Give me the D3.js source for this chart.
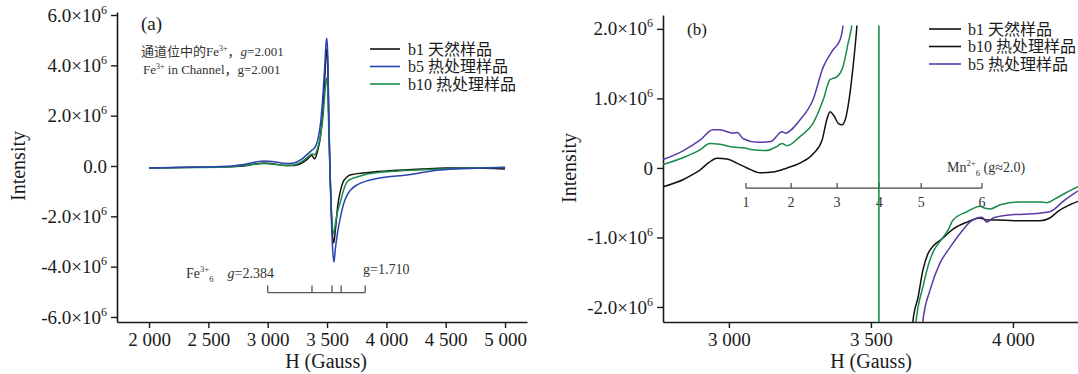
<!DOCTYPE html>
<html><head><meta charset="utf-8">
<script src="https://cdn.jsdelivr.net/npm/d3@7"></script>
<style>
body{margin:0;background:#fff;}
svg{display:block;font-family:"Liberation Serif","Times New Roman","Noto Sans CJK SC",serif;}
</style></head><body>
<svg id="c" width="1078" height="374"></svg>
<script>
// ---------------- DATA (values in units of 10^6) ----------------
// Panel (a)
const aXTicks = [2000, 2500, 3000, 3500, 4000, 4500, 5000];
const aYTicks = [-6, -4, -2, 0, 2, 4, 6];
const aB1 = [[2000,-0.08],[2300,-0.06],[2600,-0.04],[2800,0.0],[2900,0.08],[2970,0.12],[3050,0.08],[3150,0.02],[3220,0.02],[3280,0.1],[3330,0.25],[3370,0.42],[3395,0.28],[3420,0.6],[3445,1.2],[3465,2.2],[3480,3.4],[3493,4.5],[3499,4.65],[3506,4.0],[3515,1.8],[3525,-0.2],[3538,-2.0],[3550,-2.95],[3557,-3.05],[3570,-2.55],[3593,-1.47],[3615,-0.95],[3635,-0.64],[3665,-0.45],[3694,-0.36],[3800,-0.28],[3888,-0.24],[4100,-0.17],[4300,-0.12],[4500,-0.08],[4700,-0.08],[5000,-0.12]];
const aB5 = [[2000,-0.08],[2300,-0.05],[2600,-0.02],[2800,0.06],[2900,0.16],[2970,0.2],[3050,0.17],[3150,0.1],[3220,0.12],[3280,0.25],[3330,0.45],[3370,0.62],[3395,0.72],[3420,1.0],[3445,1.7],[3465,2.8],[3480,3.9],[3492,4.9],[3498,5.08],[3506,4.4],[3515,2.0],[3525,-0.3],[3538,-2.3],[3550,-3.5],[3558,-3.82],[3570,-3.3],[3590,-2.6],[3610,-2.1],[3640,-1.5],[3670,-1.15],[3710,-0.9],[3753,-0.75],[3830,-0.6],[3900,-0.52],[4000,-0.44],[4174,-0.36],[4300,-0.26],[4452,-0.16],[4700,-0.1],[5000,-0.06]];
const aB10 = [[2000,-0.08],[2300,-0.06],[2600,-0.05],[2800,0.02],[2900,0.08],[2970,0.1],[3050,0.07],[3150,0.02],[3220,0.04],[3280,0.15],[3330,0.32],[3370,0.48],[3395,0.45],[3420,0.7],[3445,1.2],[3465,1.9],[3480,2.8],[3492,3.4],[3498,3.5],[3506,3.0],[3515,1.3],[3525,-0.3],[3538,-1.9],[3550,-2.6],[3558,-2.68],[3570,-2.3],[3590,-1.8],[3610,-1.47],[3640,-0.95],[3668,-0.64],[3710,-0.5],[3753,-0.44],[3830,-0.33],[3900,-0.28],[4100,-0.2],[4452,-0.12],[4700,-0.08],[5000,-0.05]];
const aLegend = ["b1 天然样品", "b5 热处理样品", "b10 热处理样品"];
const aColors = ["#111111", "#2b43ae", "#1b8a4a"];
const feTicksH = [3000, 3373, 3542, 3619, 3822];
const feBarValue = -5.03;

// Panel (b)
const bXTicks = [3000, 3500, 4000];
const bYTicks = [-2, -1, 0, 1, 2];
const bB1 = [[2768,-0.27],[2838,-0.17],[2870,-0.1],[2898,-0.03],[2930,0.08],[2958,0.14],[2993,0.13],[3028,0.07],[3064,0.0],[3110,-0.07],[3155,-0.06],[3205,0.0],[3250,0.07],[3296,0.2],[3328,0.4],[3345,0.7],[3356,0.81],[3370,0.75],[3385,0.64],[3398,0.62],[3410,0.7],[3420,0.9],[3437,1.45],[3451,2.06],[3460,2.6],[3500,null],[3640,-2.6],[3648,-2.2],[3666,-1.86],[3683,-1.47],[3700,-1.24],[3720,-1.12],[3750,-1.02],[3789,-0.88],[3838,-0.78],[3884,-0.72],[3908,-0.75],[3955,-0.75],[4025,-0.76],[4095,-0.76],[4130,-0.72],[4160,-0.62],[4200,-0.53],[4229,-0.48]];
const bB10 = [[2768,0.05],[2840,0.15],[2898,0.26],[2933,0.35],[2968,0.34],[3015,0.3],[3050,0.29],[3085,0.26],[3130,0.25],[3165,0.3],[3187,0.35],[3205,0.32],[3250,0.45],[3296,0.64],[3332,0.98],[3356,1.27],[3380,1.31],[3402,1.46],[3420,1.8],[3433,2.06],[3445,2.6],[3500,null],[3650,-2.6],[3659,-2.2],[3683,-1.71],[3708,-1.32],[3720,-1.2],[3750,-1.02],[3772,-0.89],[3789,-0.75],[3838,-0.63],[3884,-0.55],[3902,-0.58],[3920,-0.59],[3955,-0.53],[4025,-0.49],[4095,-0.49],[4120,-0.5],[4150,-0.44],[4190,-0.35],[4229,-0.27]];
const bB5 = [[2768,0.12],[2840,0.25],[2898,0.4],[2944,0.55],[2968,0.55],[3015,0.5],[3030,0.51],[3050,0.42],[3100,0.37],[3147,0.38],[3187,0.52],[3198,0.5],[3250,0.69],[3296,0.98],[3332,1.45],[3367,1.7],[3391,1.84],[3402,2.06],[3410,2.6],[3500,null],[3675,-2.6],[3683,-2.2],[3708,-1.76],[3743,-1.37],[3779,-1.14],[3824,-0.89],[3838,-0.82],[3873,-0.72],[3891,-0.71],[3908,-0.78],[3930,-0.72],[3979,-0.68],[4095,-0.65],[4130,-0.63],[4180,-0.47],[4229,-0.33]];
const bSeriesColors = ["#111111", "#1b8a4a", "#5b3aa6"];
const bLegend = ["b1 天然样品", "b10 热处理样品", "b5 热处理样品"];
const bLegendColors = ["#111111", "#111111", "#5b3aa6"];
const bVLineH = 3528;
const bClipTop = 2.05;
const mnTicksH = [3060, 3219, 3381, 3529, 3677, 3891];
const mnLabels = ["1", "2", "3", "4", "5", "6"];
const mnBarValue = -0.29;

// ---------------- DRAWING ----------------
const svg = d3.select("#c");
const INK = "#1a1a1a";
const locale = d3.formatLocale({decimal: ".", thousands: " ", grouping: [3], currency: ["", ""]});
const fmtH = locale.format(",");

function rich(sel, parts, size) {
  sel.style("white-space", "pre");
  let cur = 0;
  parts.forEach(([t, k]) => {
    let target = 0, fs = size;
    if (k === "sup") { target = -size * 0.42; fs = size * 0.62; }
    else if (k === "sub") { target = size * 0.28; fs = size * 0.62; }
    const ts = sel.append("tspan").text(t).attr("dy", (target - cur).toFixed(2)).attr("font-size", fs);
    if (k === "it") ts.attr("font-style", "italic");
    cur = target;
  });
}

function sciLabels(g, zeroText) {
  g.selectAll(".tick text").each(function(d) {
    const t = d3.select(this);
    t.text(null);
    if (d === 0) { t.text(zeroText); return; }
    const m = (d < 0 ? "-" : "") + Math.abs(d).toFixed(1) + "×10";
    t.append("tspan").text(m);
    t.append("tspan").text("6").attr("font-size", 12).attr("dy", -8);
  });
}

function styleAxis(g) {
  g.select(".domain").attr("stroke", INK).attr("stroke-width", 1.6);
  g.selectAll(".tick line").attr("stroke", INK).attr("stroke-width", 1.4);
  g.selectAll(".tick text").attr("fill", INK).attr("font-size", 19)
    .attr("font-family", "'Liberation Serif','Times New Roman',serif");
}

// ===== Panel (a) =====
const xA = d3.scaleLinear().domain([1730, 5185]).range([117, 527]);
const yA = d3.scaleLinear().domain([-6.2, 6.12]).range([322, 12]);

const gxA = svg.append("g").attr("transform", "translate(0,322)")
  .call(d3.axisBottom(xA).tickValues(aXTicks).tickSize(6).tickSizeOuter(0).tickPadding(5).tickFormat(fmtH));
styleAxis(gxA);
const gyA = svg.append("g").attr("transform", "translate(117,0)")
  .call(d3.axisLeft(yA).tickValues(aYTicks).tickSize(6).tickSizeOuter(0).tickPadding(4));
styleAxis(gyA);
sciLabels(gyA, "0.0");

const lineA = d3.line().x(d => xA(d[0])).y(d => yA(d[1])).curve(d3.curveMonotoneX);
[aB1, aB10, aB5].forEach((s, i) => {
  const col = [aColors[0], aColors[2], aColors[1]][i];
  svg.append("path").datum(s).attr("d", lineA).attr("fill", "none")
    .attr("stroke", col).attr("stroke-width", 1.5);
});

svg.append("text").attr("x", 18).attr("y", 166).attr("transform", "rotate(-90,18,166)")
  .attr("text-anchor", "middle").attr("dy", "0.35em").attr("font-size", 20).attr("fill", INK).text("Intensity");
svg.append("text").attr("x", 326).attr("y", 368).attr("text-anchor", "middle")
  .attr("font-size", 20).attr("fill", INK).text("H (Gauss)");
svg.append("text").attr("x", 141).attr("y", 30).attr("font-size", 19).attr("fill", INK).text("(a)");

rich(svg.append("text").attr("x", 141).attr("y", 56).attr("fill", "#333"),
  [["通道位中的Fe", ""], ["3+", "sup"], ["，", ""], ["g", "it"], ["=2.001", ""]], 13);
rich(svg.append("text").attr("x", 143).attr("y", 74).attr("fill", "#333"),
  [["Fe", ""], ["3+", "sup"], [" in Channel，g=2.001", ""]], 13);

aLegend.forEach((lab, i) => {
  const y = 49 + i * 17.5;
  svg.append("line").attr("x1", 370).attr("x2", 400).attr("y1", y).attr("y2", y)
    .attr("stroke", aColors[i]).attr("stroke-width", 1.6);
  svg.append("text").attr("x", 408).attr("y", y).attr("dy", "0.35em").attr("font-size", 16)
    .attr("fill", INK).text(lab);
});

// Fe3+ bar
const feY = yA(feBarValue);
svg.append("line").attr("x1", xA(feTicksH[0])).attr("x2", xA(feTicksH[feTicksH.length - 1]))
  .attr("y1", feY).attr("y2", feY).attr("stroke", "#555").attr("stroke-width", 1.3);
feTicksH.forEach(h => svg.append("line").attr("x1", xA(h)).attr("x2", xA(h))
  .attr("y1", feY).attr("y2", feY - 7).attr("stroke", "#555").attr("stroke-width", 1.3));
rich(svg.append("text").attr("x", 186).attr("y", 278).attr("fill", "#333"),
  [["Fe", ""], ["3+", "sup"], ["6", "sub"], ["    ", ""], ["g", "it"], ["=2.384", ""]], 14);
svg.append("text").attr("x", 363).attr("y", 274).attr("font-size", 14).attr("fill", "#333").text("g=1.710");

// ===== Panel (b) =====
const xB = d3.scaleLinear().domain([2768, 4229]).range([663, 1078]);
const yB = d3.scaleLinear().domain([-2.216, 2.2]).range([322, 15]);

const gxB = svg.append("g").attr("transform", "translate(0,322)")
  .call(d3.axisBottom(xB).tickValues(bXTicks).tickSize(6).tickSizeOuter(0).tickPadding(5).tickFormat(fmtH));
styleAxis(gxB);
const gyB = svg.append("g").attr("transform", "translate(663,0)")
  .call(d3.axisLeft(yB).tickValues(bYTicks).tickSize(6).tickSizeOuter(0).tickPadding(4));
styleAxis(gyB);
sciLabels(gyB, "0");

svg.append("clipPath").attr("id", "clipB").append("rect")
  .attr("x", 663).attr("y", yB(bClipTop)).attr("width", 1078 - 663).attr("height", 322 - yB(bClipTop));

const lineB = d3.line().defined(d => d[1] !== null).x(d => xB(d[0])).y(d => yB(d[1])).curve(d3.curveMonotoneX);
const gB = svg.append("g").attr("clip-path", "url(#clipB)");
[bB1, bB10, bB5].forEach((s, i) => {
  gB.append("path").datum(s).attr("d", lineB).attr("fill", "none")
    .attr("stroke", bSeriesColors[i]).attr("stroke-width", 1.5);
});

// Mn2+ bar
const mnY = yB(mnBarValue);
svg.append("line").attr("x1", xB(mnTicksH[0])).attr("x2", xB(mnTicksH[mnTicksH.length - 1]))
  .attr("y1", mnY).attr("y2", mnY).attr("stroke", "#444").attr("stroke-width", 1.2);
mnTicksH.forEach((h, i) => {
  svg.append("line").attr("x1", xB(h)).attr("x2", xB(h)).attr("y1", mnY).attr("y2", mnY - 5)
    .attr("stroke", "#444").attr("stroke-width", 1.2);
  svg.append("text").attr("x", xB(h)).attr("y", mnY + 19).attr("text-anchor", "middle")
    .attr("font-size", 14).attr("fill", "#333").text(mnLabels[i]);
});
rich(svg.append("text").attr("x", 947).attr("y", 172).attr("fill", "#333"),
  [["Mn", ""], ["2+", "sup"], ["6", "sub"], [" (g≈2.0)", ""]], 14);

// vertical green line
svg.append("line").attr("x1", xB(bVLineH)).attr("x2", xB(bVLineH))
  .attr("y1", yB(bClipTop)).attr("y2", 322).attr("stroke", "#1b8a4a").attr("stroke-width", 1.6);

svg.append("text").attr("x", 569).attr("y", 168).attr("transform", "rotate(-90,569,168)")
  .attr("text-anchor", "middle").attr("dy", "0.35em").attr("font-size", 20).attr("fill", INK).text("Intensity");
svg.append("text").attr("x", 871).attr("y", 368).attr("text-anchor", "middle")
  .attr("font-size", 20).attr("fill", INK).text("H (Gauss)");
svg.append("text").attr("x", 687).attr("y", 35).attr("font-size", 17).attr("fill", INK).text("(b)");

bLegend.forEach((lab, i) => {
  const y = 29 + i * 17.5;
  svg.append("line").attr("x1", 929).attr("x2", 961).attr("y1", y).attr("y2", y)
    .attr("stroke", bLegendColors[i]).attr("stroke-width", 1.6);
  svg.append("text").attr("x", 968).attr("y", y).attr("dy", "0.35em").attr("font-size", 16)
    .attr("fill", INK).text(lab);
});
</script>
</body></html>
